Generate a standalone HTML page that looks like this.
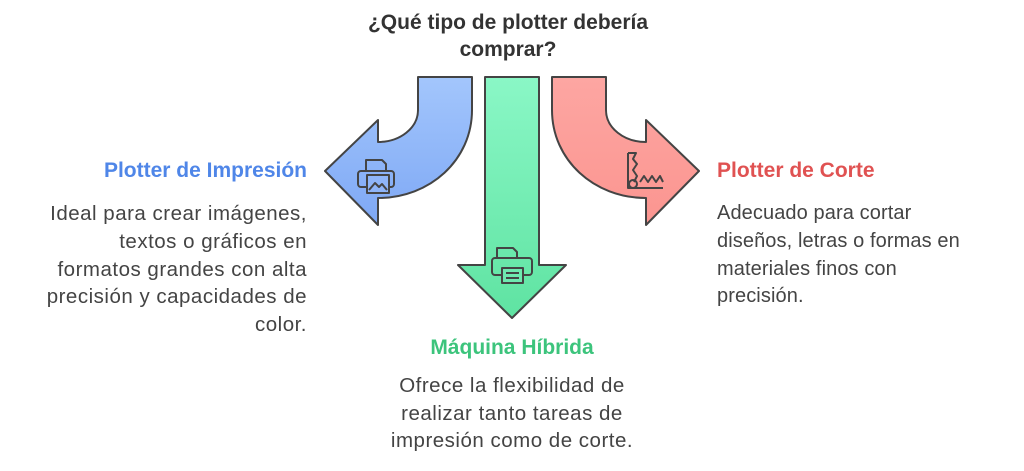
<!DOCTYPE html>
<html><head><meta charset="utf-8"><style>
body{margin:0;width:1024px;height:471px;background:#fff;font-family:"Liberation Sans",sans-serif;position:relative;overflow:hidden}
.t{position:absolute;font-weight:bold;font-size:21px;white-space:nowrap}
.b{position:absolute;font-size:20.5px;letter-spacing:0.5px;line-height:27.8px;color:#444;white-space:nowrap}
</style></head><body>
<svg width="1024" height="471" style="position:absolute;left:0;top:0">
<defs>
<linearGradient id="gb" x1="0" y1="0" x2="0" y2="1"><stop offset="0" stop-color="#a3c6fc"/><stop offset="1" stop-color="#7ea8f5"/></linearGradient>
<linearGradient id="gg" x1="0" y1="0" x2="0" y2="1"><stop offset="0" stop-color="#8af7c6"/><stop offset="1" stop-color="#5fe3a2"/></linearGradient>
<linearGradient id="gr" x1="0" y1="0" x2="0" y2="1"><stop offset="0" stop-color="#fda6a2"/><stop offset="1" stop-color="#fb9590"/></linearGradient>
</defs>
<g stroke="#444" stroke-width="2" stroke-linejoin="round">
<path d="M418 77 L472 77 L472 110 C472 160 430 198 378 198 L378 225 L325 171 L378 120 L378 142 C400 142 418 128 418 110 Z" fill="url(#gb)"/>
<path d="M485 77 L539 77 L539 265 L566 265 L512 318 L458 265 L485 265 Z" fill="url(#gg)"/>
<path d="M606 77 L552 77 L552 110 C552 160 594 198 646 198 L646 225 L699 171 L646 120 L646 142 C624 142 606 128 606 110 Z" fill="url(#gr)"/>
</g>
<g fill="none" stroke="#444" stroke-width="2" stroke-linejoin="round">
<path d="M366 171 L366 160 L382 160 L386 164 L386 171"/>
<rect x="358" y="171" width="36" height="16" rx="3"/>
<rect x="367" y="175" width="22" height="18" fill="#8fb5f8"/>
<path d="M369 190 L375 183 L379 187 L382 184 L387 190"/>
<path d="M497 258 L497 248 L513 248 L517 252 L517 258"/>
<rect x="492" y="258" width="40" height="17" rx="3"/>
<rect x="502" y="268" width="21" height="15" fill="#6ee9b0"/>
<path d="M506 273 H519 M506 278 H519"/>
<path d="M628 153 L628 188 L663 188 M628 153 L636 153 L633 159 L637 164 L633 170 L637 176 L634 182 M640 182 L644 176 L648 182 L652 176 L656 182 L660 176 L663 182"/>
<circle cx="633" cy="184" r="4"/>
</g>
</svg>
<div class="t" style="left:308px;top:9px;width:400px;text-align:center;color:#333;line-height:27px">¿Qué tipo de plotter debería<br>comprar?</div>
<div class="t" style="left:6px;top:159px;width:301px;text-align:right;color:#4f86e8">Plotter de Impresión</div>
<div class="b" style="left:6px;top:200px;width:301px;text-align:right">Ideal para crear imágenes,<br>textos o gráficos en<br>formatos grandes con alta<br>precisión y capacidades de<br>color.</div>
<div class="t" style="left:717px;top:159px;color:#e05252">Plotter de Corte</div>
<div class="b" style="left:717px;top:200px;width:300px;font-size:20px;letter-spacing:0.1px">Adecuado para cortar<br>diseños, letras o formas en<br>materiales finos con<br>precisión.</div>
<div class="t" style="left:312px;top:336px;width:400px;text-align:center;color:#3cc47c">Máquina Híbrida</div>
<div class="b" style="left:312px;top:372px;width:400px;text-align:center;line-height:27.5px">Ofrece la flexibilidad de<br>realizar tanto tareas de<br>impresión como de corte.</div>
</body></html>
